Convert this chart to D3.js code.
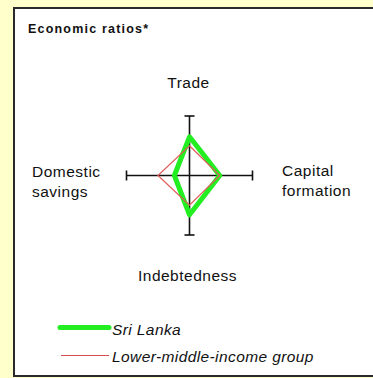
<!DOCTYPE html>
<html>
<head>
<meta charset="utf-8">
<script src="https://cdn.jsdelivr.net/npm/d3@7"></script>
<style>
  body { margin: 0; background: #ffffcc; }
  text { font-family: "Liberation Sans", Arial, sans-serif; fill: #111; }
</style>
</head>
<body>
<svg id="chart" width="373" height="378"></svg>
<script>
// axes of the diamond, clockwise from top
const axes = ["Trade", "Capital formation", "Indebtedness", "Domestic savings"];
const sriLanka = [65, 48, 66, 24];
const lowerMiddle = [50, 48, 50, 50];
const seriesNames = ["Sri Lanka", "Lower-middle-income group"];

const svg = d3.select("#chart");

// white panel
svg.append("rect")
    .attr("x", 14).attr("y", 8)
    .attr("width", 380).attr("height", 368)
    .attr("fill", "#fff")
    .attr("stroke", "#2a2a2a")
    .attr("stroke-width", 2);

svg.append("text")
    .attr("x", 28).attr("y", 33)
    .attr("font-size", 12.5)
    .attr("font-weight", "bold")
    .attr("letter-spacing", 1.2)
    .text("Economic ratios*");

const cx = 189.5, cy = 175.5;
const rx = d3.scaleLinear().domain([0, 100]).range([0, 63]);
const ry = d3.scaleLinear().domain([0, 100]).range([0, 59.5]);

// direction of each axis
const dirs = [[0, -1], [1, 0], [0, 1], [-1, 0]];
const pt = (v, i) => [cx + dirs[i][0] * rx(v), cy + dirs[i][1] * ry(v)];

const g = svg.append("g");

// axis lines with end caps
dirs.forEach((d, i) => {
    const [x2, y2] = pt(100, i);
    g.append("line")
        .attr("x1", cx).attr("y1", cy)
        .attr("x2", x2).attr("y2", y2)
        .attr("stroke", "#111").attr("stroke-width", 1.6);
    g.append("line")
        .attr("x1", x2 - 5 * Math.abs(d[1])).attr("x2", x2 + 5 * Math.abs(d[1]))
        .attr("y1", y2 - 5 * Math.abs(d[0])).attr("y2", y2 + 5 * Math.abs(d[0]))
        .attr("stroke", "#111").attr("stroke-width", 1.6);
});

const line = d3.line().curve(d3.curveLinearClosed);

g.append("path")
    .attr("d", line(sriLanka.map(pt)))
    .attr("fill", "none")
    .attr("stroke", "#22ee22")
    .attr("stroke-width", 5)
    .attr("stroke-linejoin", "round");

g.append("path")
    .attr("d", line(lowerMiddle.map(pt)))
    .attr("fill", "none")
    .attr("stroke", "#e05a5a")
    .attr("stroke-width", 1.2);

// axis labels
const fs = 15.5, ls = 0.5;
svg.append("text").attr("x", 188.5).attr("y", 87.5)
    .attr("text-anchor", "middle").attr("font-size", fs).attr("letter-spacing", ls).text(axes[0]);
svg.append("text").attr("x", 187.5).attr("y", 281)
    .attr("text-anchor", "middle").attr("font-size", fs).attr("letter-spacing", ls).text(axes[2]);

const capital = axes[1].split(" ");
const savings = axes[3].split(" ");
capital.forEach((w, i) => {
    svg.append("text").attr("x", 282).attr("y", 176 + i * 20)
        .attr("font-size", fs).attr("letter-spacing", ls).text(w);
});
savings.forEach((w, i) => {
    svg.append("text").attr("x", 32).attr("y", 177 + i * 20)
        .attr("font-size", fs).attr("letter-spacing", ls).text(w);
});

// legend
const legend = svg.append("g");
legend.append("line")
    .attr("x1", 60).attr("x2", 109).attr("y1", 327.5).attr("y2", 327.5)
    .attr("stroke", "#22ee22").attr("stroke-width", 5)
    .attr("stroke-linecap", "round");
legend.append("line")
    .attr("x1", 61).attr("x2", 109).attr("y1", 355.5).attr("y2", 355.5)
    .attr("stroke", "#d94a4a").attr("stroke-width", 1.2);
legend.append("text").attr("x", 112).attr("y", 335)
    .attr("font-size", fs).attr("font-style", "italic").attr("letter-spacing", 0.4).text(seriesNames[0]);
legend.append("text").attr("x", 112).attr("y", 361.5)
    .attr("font-size", fs).attr("font-style", "italic").attr("letter-spacing", 0.4).text(seriesNames[1]);
</script>
</body>
</html>
